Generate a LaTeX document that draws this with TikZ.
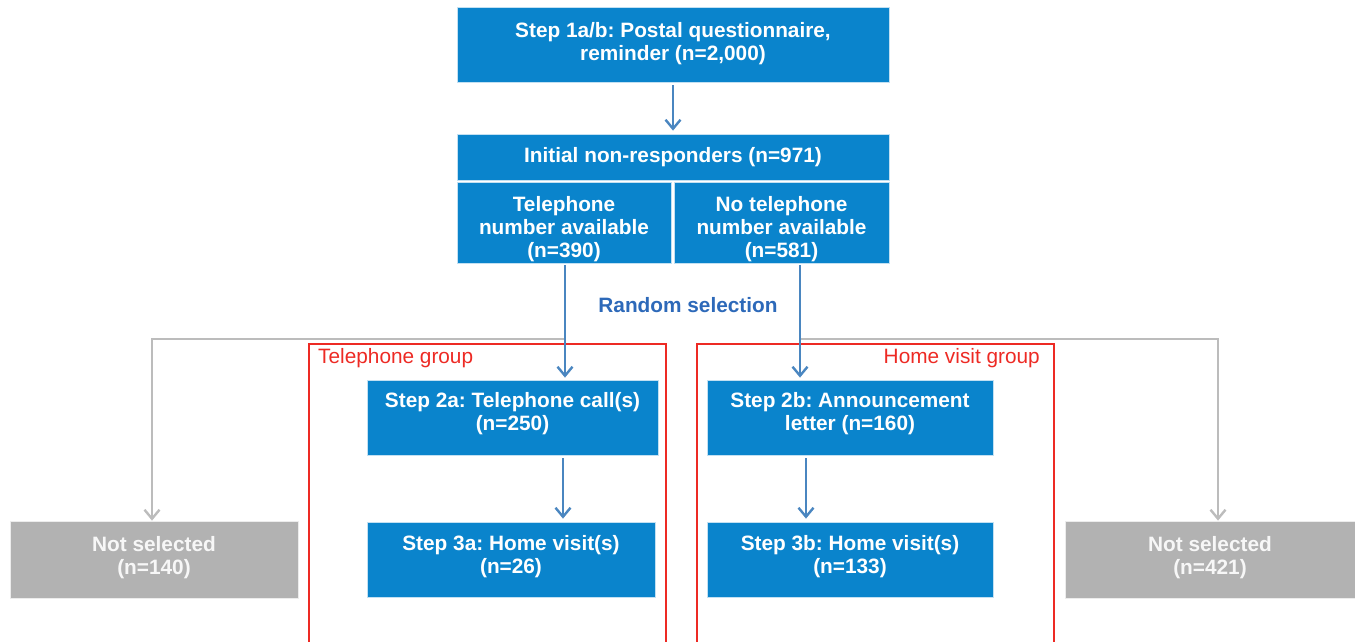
\documentclass[tikz,border=0pt]{standalone}
\usepackage{fontspec}
\setmainfont{Liberation Sans}
\usetikzlibrary{arrows.meta}
\frenchspacing
\definecolor{boxblue}{RGB}{10,132,204}
\definecolor{lineblue}{RGB}{74,134,192}
\definecolor{boxgray}{RGB}{178,178,178}
\definecolor{linegray}{RGB}{188,188,188}
\definecolor{grpred}{RGB}{237,42,36}
\definecolor{selblue}{RGB}{45,105,185}
\newcommand{\liftlines}[2]{\raisebox{#1}[\height][\depth]{\begin{tabular}{@{}c@{}}#2\end{tabular}}}
\begin{document}
\begin{tikzpicture}[x=1pt,y=-1pt,
  box/.style={fill=boxblue, draw=white!75!boxblue, line width=0.8pt, text=white,
    font=\fontsize{20.8}{23}\selectfont\bfseries\frenchspacing, align=center, inner sep=0pt},
  graybox/.style={box, fill=boxgray, draw=white!75!boxgray, text=white!90!boxgray},
  bluearrow/.style={draw=lineblue, line width=2.4pt, -{Straight Barb[length=9pt,width=15pt,line width=2.4pt]}},
  grayarrow/.style={draw=linegray, line width=2.4pt, -{Straight Barb[length=9pt,width=15pt,line width=2.4pt]}},
  grp/.style={draw=grpred, line width=2pt},
  grplabel/.style={text=grpred, font=\fontsize{20.8}{22}\selectfont, inner sep=0pt},
]
\useasboundingbox (0,0) rectangle (1355,641);
\clip (0,0) rectangle (1355,641);

% group frames
\draw[grp] (309,650) -- (309,344) -- (666,344) -- (666,650);
\draw[grp] (697,650) -- (697,344) -- (1054,344) -- (1054,650);
\node[grplabel, anchor=west] (lbltel) at (318,358) {Telephone group};
\node[grplabel, anchor=east] (lblhome) at (1040,358) {Home visit group};

% boxes
\node[box, minimum width=432, minimum height=75] (s1) at (673,44.5)
  {\liftlines{0.5pt}{Step 1a/b: Postal questionnaire,\\reminder (n=2,000)}};
\node[box, minimum width=432, minimum height=46] (init) at (673,157)
  {Initial non-responders (n=971)};
\node[box, minimum width=214, minimum height=81] (tel) at (564,222.5)
  {\liftlines{-7pt}{Telephone\\number available\\(n=390)}};
\node[box, minimum width=215, minimum height=81] (notel) at (781.5,222.5)
  {\liftlines{-7pt}{No telephone\\number available\\(n=581)}};

\node[text=selblue, font=\fontsize{20.8}{23}\selectfont\bfseries, inner sep=0pt] (rs) at (688,305) {Random selection};

\node[box, minimum width=291, minimum height=75] (s2a) at (512.5,417.5)
  {\liftlines{3.5pt}{Step 2a: Telephone call(s)\\(n=250)}};
\node[box, minimum width=288, minimum height=75] (s3a) at (511,559.5)
  {\liftlines{2.5pt}{Step 3a: Home visit(s)\\(n=26)}};
\node[box, minimum width=286, minimum height=75] (s2b) at (850,417.5)
  {\liftlines{3.5pt}{Step 2b: Announcement\\letter (n=160)}};
\node[box, minimum width=286, minimum height=75] (s3b) at (850,559.5)
  {\liftlines{2.5pt}{Step 3b: Home visit(s)\\(n=133)}};
\node[graybox, minimum width=288, minimum height=77] (ns1) at (154,559.5)
  {\liftlines{1.5pt}{Not selected\\(n=140)}};
\node[graybox, minimum width=290, minimum height=77] (ns2) at (1210,559.5)
  {\liftlines{1.5pt}{Not selected\\(n=421)}};

% connector points
\coordinate (tl) at (565,263);
\coordinate (tr) at (800,263);
\coordinate (jl) at (565,339);
\coordinate (jr) at (800,339);
\coordinate (gl) at (152,339);
\coordinate (gr) at (1218,339);

% connectors
\draw[grayarrow] (jl) -- (gl) -- (gl |- ns1.north);
\draw[grayarrow] (jr) -- (gr) -- (gr |- ns2.north);
\draw[bluearrow] ([yshift=-3pt]s1.south) -- ([yshift=3pt]init.north);
\draw[bluearrow] ([yshift=-2pt]tl) -- ([yshift=2pt]tl |- s2a.north);
\draw[bluearrow] ([yshift=-2pt]tr) -- ([yshift=2pt]tr |- s2b.north);
\draw[bluearrow] ([xshift=50.5pt,yshift=-3pt]s2a.south) -- ([xshift=52pt,yshift=3pt]s3a.north);
\draw[bluearrow] ([xshift=-44pt,yshift=-3pt]s2b.south) -- ([xshift=-44pt,yshift=3pt]s3b.north);
\end{tikzpicture}
\end{document}
